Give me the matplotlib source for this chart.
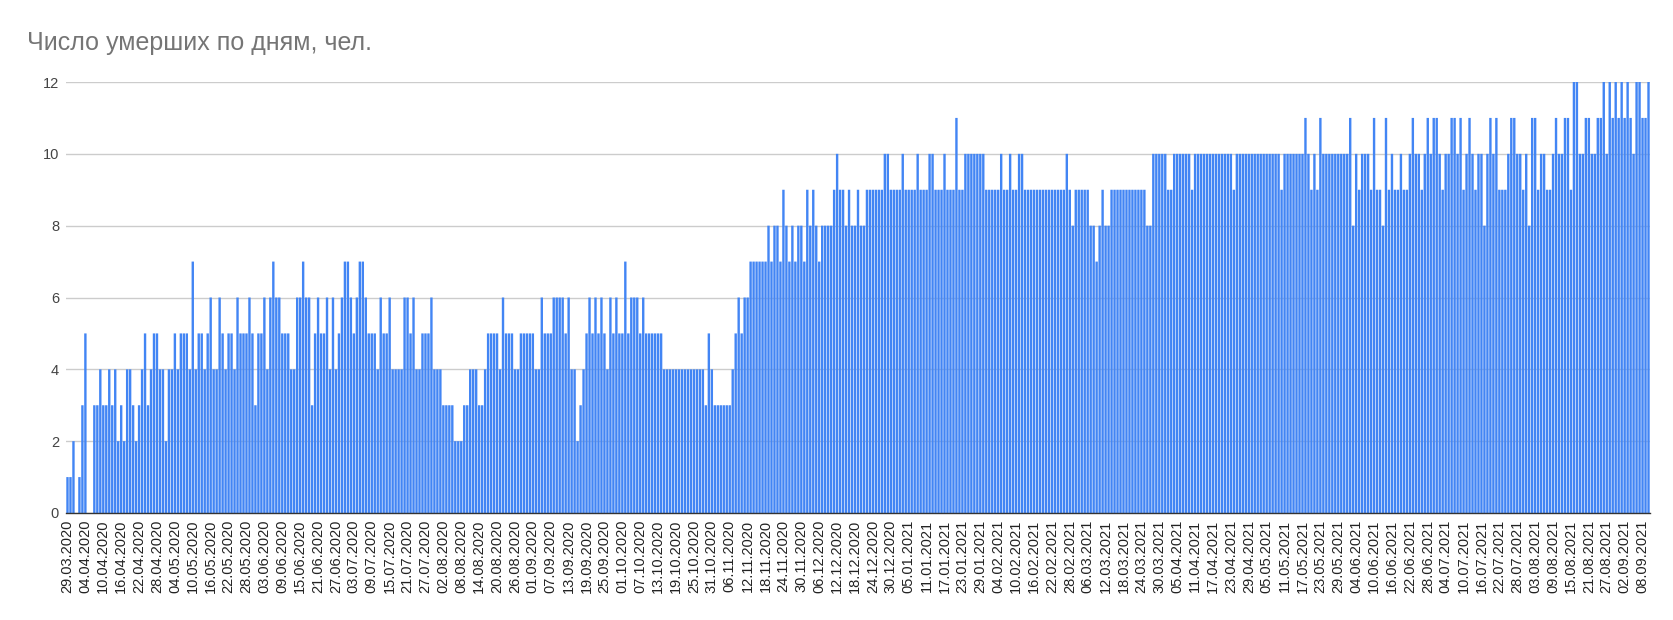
import matplotlib
matplotlib.use("Agg")
import matplotlib.pyplot as plt
import pandas as pd

plt.rcParams['font.family'] = ['Liberation Sans', 'DejaVu Sans']

# число умерших по дням, с 29.03.2020
mar_2020 = [1, 1, 2]
apr_2020 = [0, 1, 3, 5, 0, 0, 3, 3, 4, 3, 3, 4, 3, 4, 2, 3, 2, 4, 4, 3,
            2, 3, 4, 5, 3, 4, 5, 5, 4, 4]
may_2020 = [2, 4, 4, 5, 4, 5, 5, 5, 4, 7, 4, 5, 5, 4, 5, 6, 4, 4, 6, 5,
            4, 5, 5, 4, 6, 5, 5, 5, 6, 5, 3]
jun_2020 = [5, 5, 6, 4, 6, 7, 6, 6, 5, 5, 5, 4, 4, 6, 6, 7, 6, 6, 3, 5,
            6, 5, 5, 6, 4, 6, 4, 5, 6, 7]
jul_2020 = [7, 6, 5, 6, 7, 7, 6, 5, 5, 5, 4, 6, 5, 5, 6, 4, 4, 4, 4, 6,
            6, 5, 6, 4, 4, 5, 5, 5, 6, 4, 4]
aug_2020 = [4, 3, 3, 3, 3, 2, 2, 2, 3, 3, 4, 4, 4, 3, 3, 4, 5, 5, 5, 5,
            4, 6, 5, 5, 5, 4, 4, 5, 5, 5, 5]
sep_2020 = [5, 4, 4, 6, 5, 5, 5, 6, 6, 6, 6, 5, 6, 4, 4, 2, 3, 4, 5, 6,
            5, 6, 5, 6, 5, 4, 6, 5, 6, 5]
oct_2020 = [5, 7, 5, 6, 6, 6, 5, 6, 5, 5, 5, 5, 5, 5, 4, 4, 4, 4, 4, 4,
            4, 4, 4, 4, 4, 4, 4, 4, 3, 5, 4]
nov_2020 = [3, 3, 3, 3, 3, 3, 4, 5, 6, 5, 6, 6, 7, 7, 7, 7, 7, 7, 8, 7,
            8, 8, 7, 9, 8, 7, 8, 7, 8, 8]
dec_2020 = [7, 9, 8, 9, 8, 7, 8, 8, 8, 8, 9, 10, 9, 9, 8, 9, 8, 8, 9, 8,
            8, 9, 9, 9, 9, 9, 9, 10, 10, 9, 9]
jan_2021 = [9, 9, 10, 9, 9, 9, 9, 10, 9, 9, 9, 10, 10, 9, 9, 9, 10, 9, 9, 9,
            11, 9, 9, 10, 10, 10, 10, 10, 10, 10, 9]
feb_2021 = [9, 9, 9, 9, 10, 9, 9, 10, 9, 9, 10, 10, 9, 9, 9, 9, 9, 9, 9, 9,
            9, 9, 9, 9, 9, 9, 10, 9]
mar_2021 = [8, 9, 9, 9, 9, 9, 8, 8, 7, 8, 9, 8, 8, 9, 9, 9, 9, 9, 9, 9,
            9, 9, 9, 9, 9, 8, 8, 10, 10, 10, 10]
apr_2021 = [10, 9, 9, 10, 10, 10, 10, 10, 10, 9, 10, 10, 10, 10, 10, 10, 10, 10, 10, 10,
            10, 10, 10, 9, 10, 10, 10, 10, 10, 10]
may_2021 = [10, 10, 10, 10, 10, 10, 10, 10, 10, 9, 10, 10, 10, 10, 10, 10, 10, 11, 10, 9,
            10, 9, 11, 10, 10, 10, 10, 10, 10, 10, 10]
jun_2021 = [10, 11, 8, 10, 9, 10, 10, 10, 9, 11, 9, 9, 8, 11, 9, 10, 9, 9, 10, 9,
            9, 10, 11, 10, 10, 9, 10, 11, 10, 11]
jul_2021 = [11, 10, 9, 10, 10, 11, 11, 10, 11, 9, 10, 11, 10, 9, 10, 10, 8, 10, 11, 10,
            11, 9, 9, 9, 10, 11, 11, 10, 10, 9, 10]
aug_2021 = [8, 11, 11, 9, 10, 10, 9, 9, 10, 11, 10, 10, 11, 11, 9, 12, 12, 10, 10, 11,
            11, 10, 10, 11, 11, 12, 10, 12, 11, 12, 11]
sep_2021 = [12, 11, 12, 11, 10, 12, 12, 11, 11, 12]

deaths = (mar_2020 + apr_2020 + may_2020 + jun_2020 + jul_2020 + aug_2020 +
          sep_2020 + oct_2020 + nov_2020 + dec_2020 + jan_2021 + feb_2021 +
          mar_2021 + apr_2021 + may_2021 + jun_2021 + jul_2021 + aug_2021 + sep_2021)
days = pd.date_range("2020-03-29", periods=len(deaths), freq="D")
labels = [d.strftime("%d.%m.%Y") for d in days]

W, H = 1674, 620
fig = plt.figure(figsize=(W / 100, H / 100), dpi=100)
ax = fig.add_axes([66 / W, 1 - 513 / H, (1650 - 66) / W, (513 - 82) / H])

x = list(range(len(deaths)))
ax.bar(x, deaths, width=0.8, color="#4285f4", linewidth=0, zorder=2, snap=False)

ax.set_xlim(-0.5, len(deaths) - 0.5)
ax.set_ylim(0, 12)
ax.set_yticks(range(0, 13, 2))
ax.grid(axis="y", color="#cccccc", linewidth=1, zorder=0)
ax.set_axisbelow(True)

ticks = x[::6]
ax.set_xticks(ticks)
ax.set_xticklabels([labels[i] for i in ticks], rotation=90, fontsize=10.5, color="#222222")
ax.tick_params(axis="x", length=0, pad=5)
ax.tick_params(axis="y", length=0, pad=5, labelsize=10.5, colors="#444444")

for s in ["top", "right", "left"]:
    ax.spines[s].set_visible(False)
ax.spines["bottom"].set_color("#333333")
ax.spines["bottom"].set_linewidth(1)
ax.spines["bottom"].set_zorder(3)

fig.text(27 / W, 1 - 43 / H, "Число умерших по дням, чел.", fontsize=18,
         color="#757575", va="center", ha="left")

fig.savefig("out.png", dpi=100)
